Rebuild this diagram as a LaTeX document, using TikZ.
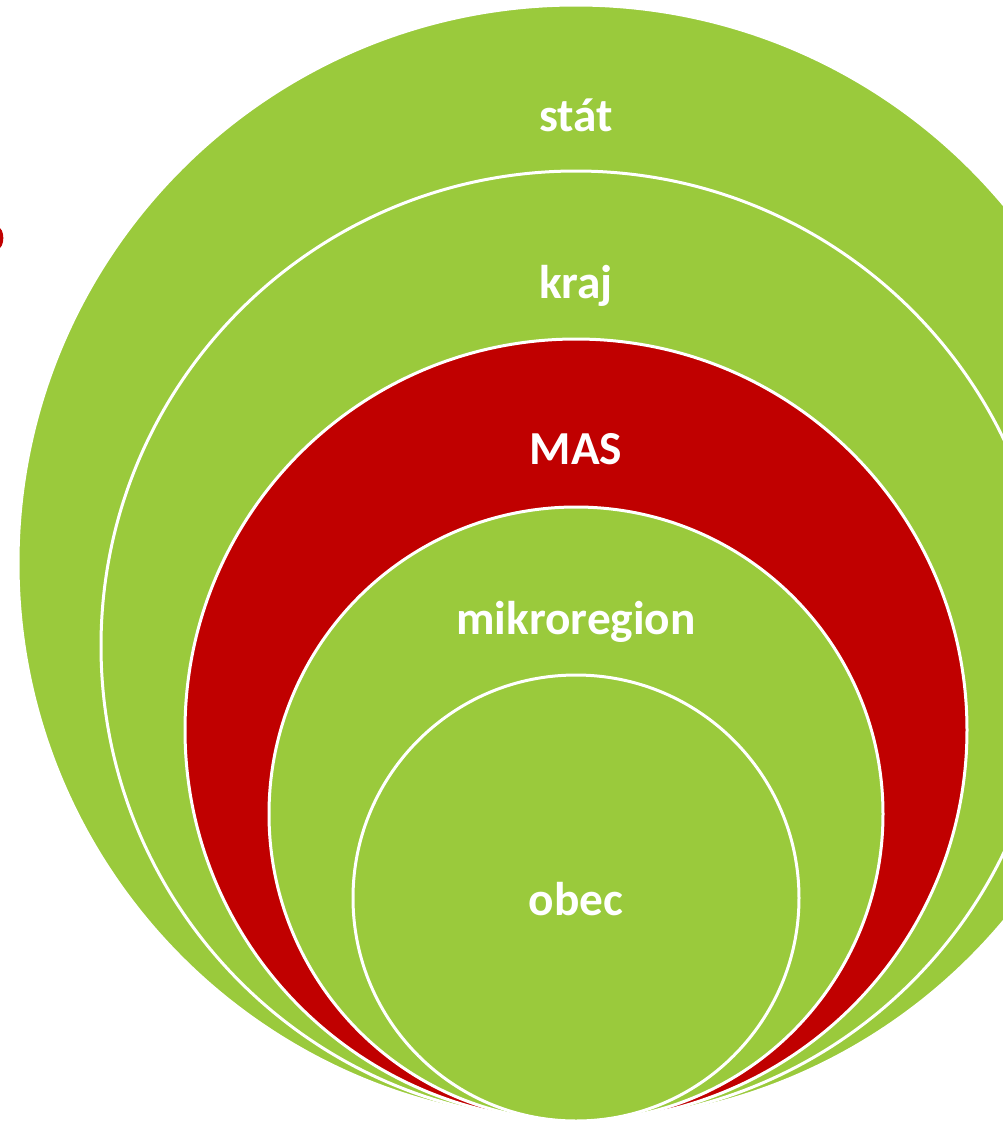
\documentclass[tikz,border=0pt]{standalone}
\usepackage{fontspec}
\setmainfont{Carlito}
\usetikzlibrary{positioning}
\definecolor{ringgreen}{RGB}{154,202,60}
\definecolor{ringred}{RGB}{192,0,0}
\begin{document}
\begin{tikzpicture}[x=0.75pt,y=-0.75pt,font=\bfseries\fontsize{35.5}{42}\selectfont]
        \tikzset{ring/.style={draw=white,circle,line width=2.25pt,inner sep=0pt},
                 tag/.style={text=white,inner sep=0pt,anchor=base}}
        \useasboundingbox (0,0) rectangle (1003,1122);
        \clip (0,0) rectangle (1003,1122);
        \fill[ringred] (-2,238) ellipse [x radius=4pt, y radius=8pt];
        \node[ring,fill=ringgreen,minimum size=837pt](stat) at (576,563) {};
        \node[ring,fill=ringgreen,minimum size=712.5pt](kraj) at (576,646) {};
        \node[ring,fill=ringred,minimum size=586.5pt](mas) at (576,730) {};
        \node[ring,fill=ringgreen,minimum size=460.5pt](mikro) at (576,814) {};
        \node[ring,fill=ringgreen,minimum size=334.5pt](obec) at (576,898) {};
        \node[tag](statT) at (576,131) {stát};
        \node[tag](krajT) at (576,298) {kraj};
        \node[tag](masT) at (576,464) {MAS};
        \node[tag](mikroT) at (576,634) {mikroregion};
        \node[tag](obecT) at (576,915) {obec};
    \end{tikzpicture}
\end{document}
